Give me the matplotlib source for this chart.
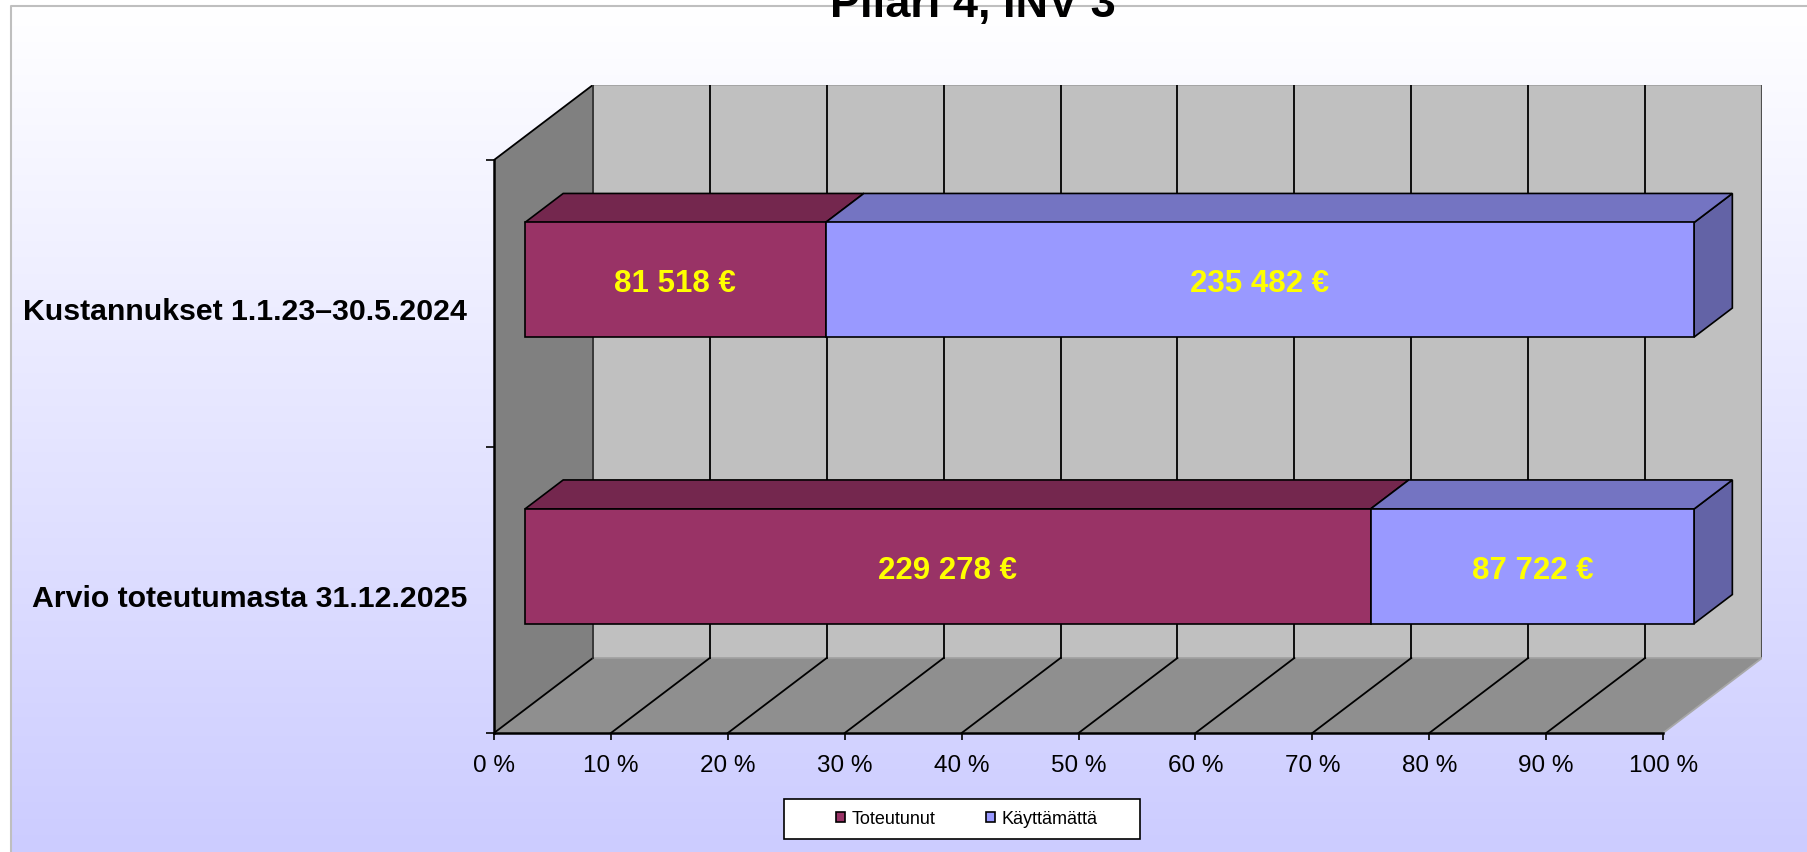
import matplotlib
matplotlib.use("Agg")
import matplotlib.pyplot as plt
from matplotlib.patches import Polygon, Rectangle, Patch
import numpy as np

plt.rcParams['font.family'] = ['Liberation Sans', 'DejaVu Sans']

############## Daten ##############
title = "Pilari 4, INV 3"
categories = ["Arvio toteutumasta 31.12.2025", "Kustannukset 1.1.23–30.5.2024"]
series_names = ["Toteutunut", "Käyttämättä"]
toteutunut = [229278, 81518]
kayttamatta = [87722, 235482]
xticks = list(range(0, 101, 10))
xtick_labels = [f"{t} %" for t in xticks]

front_colors = ["#993366", "#9999FF"]

############## 3D-Hilfen ##############
DX, DY = 8.455, 0.2618      # volle Tiefe in Datenkoordinaten
D0, D1 = 0.313, 0.70        # Tiefe der Balken
BAR_H = 0.4


def shade(c, f):
    r, g, b = matplotlib.colors.to_rgb(c)
    return (r * f, g * f, b * f)


def proj(x, y, d):
    return (x + d * DX, y + d * DY)


def euro(v):
    return f"{v:,}".replace(",", " ") + " €"


############## Darstellung ##############
W, H = 1808, 853
fig = plt.figure(figsize=(W / 100, H / 100), dpi=100)

# Hintergrund mit Verlauf
bg = fig.add_axes([0, 0, 1, 1], zorder=-1)
bg.set_xlim(0, W)
bg.set_ylim(H, 0)
bg.axis("off")
t = np.linspace(0, 1, 256)[:, None]
grad = np.dstack([1 - 0.2 * t, 1 - 0.2 * t, np.ones_like(t)])
bg.imshow(grad, extent=[11, W, H, 7], aspect="auto")
bg.plot([11, 11, W], [H, 7, 7], color="#BFBFBF", lw=1.5)

ax = fig.add_axes([494 / W, (H - 734) / H, 1268 / W, 648 / H])
ax.set_facecolor("none")
ax.set_xlim(0, 100 + DX)
ax.set_ylim(0, 2 + DY)
ny = len(categories)

# Wände
floor = [proj(0, 0, 0), proj(100, 0, 0), proj(100, 0, 1), proj(0, 0, 1)]
lwall = [proj(0, 0, 0), proj(0, ny, 0), proj(0, ny, 1), proj(0, 0, 1)]
bwall = [proj(0, 0, 1), proj(100, 0, 1), proj(100, ny, 1), proj(0, ny, 1)]
ax.add_patch(Polygon(floor, closed=True, fc="#8F8F8F", ec="none", zorder=1))
ax.add_patch(Polygon(lwall, closed=True, fc="#808080", ec="none", zorder=1))
ax.add_patch(Polygon(bwall, closed=True, fc="#C0C0C0", ec="#A0A0A0", lw=1.2, zorder=1))

# Gitterlinien
for x in xticks[1:-1]:
    (xa, ya), (xb, yb) = proj(x, 0, 0), proj(x, 0, 1)
    ax.plot([xa, xb], [ya, yb], color="black", lw=1.3, zorder=2)
    (xa, ya), (xb, yb) = proj(x, 0, 1), proj(x, ny, 1)
    ax.plot([xa, xb], [ya, yb], color="black", lw=1.3, zorder=2)
(xa, ya), (xb, yb) = proj(100, 0, 1), proj(100, ny, 1)
ax.plot([xa, xb], [ya, yb], color="#505050", lw=1.5, zorder=2)
(xa, ya), (xb, yb) = proj(100, 0, 0), proj(100, 0, 1)
ax.plot([xa, xb], [ya, yb], color="#A8A8A8", lw=1.3, zorder=2)
# Kanten der linken Wand
for yy in (0, ny):
    (xa, ya), (xb, yb) = proj(0, yy, 0), proj(0, yy, 1)
    ax.plot([xa, xb], [ya, yb], color="black", lw=1.3, zorder=2)
(xa, ya), (xb, yb) = proj(0, 0, 1), proj(0, ny, 1)
ax.plot([xa, xb], [ya, yb], color="#303030", lw=1.3, zorder=2)

# Balken
for i in range(ny):
    vals = [toteutunut[i], kayttamatta[i]]
    total = sum(vals)
    y0, y1 = i + 0.5 - BAR_H / 2, i + 0.5 + BAR_H / 2
    left = 0
    for s, v in enumerate(vals):
        w = v / total * 100
        x0, x1 = left, left + w
        c = front_colors[s]
        side = [proj(x1, y0, D0), proj(x1, y0, D1), proj(x1, y1, D1), proj(x1, y1, D0)]
        top = [proj(x0, y1, D0), proj(x1, y1, D0), proj(x1, y1, D1), proj(x0, y1, D1)]
        front = [proj(x0, y0, D0), proj(x1, y0, D0), proj(x1, y1, D0), proj(x0, y1, D0)]
        ax.add_patch(Polygon(side, closed=True, fc=shade(c, 0.65), ec="black", lw=1.2, zorder=3))
        ax.add_patch(Polygon(top, closed=True, fc=shade(c, 0.76), ec="black", lw=1.2, zorder=3))
        ax.add_patch(Polygon(front, closed=True, fc=c, ec="black", lw=1.2, zorder=3))
        cx, cy = proj((x0 + x1) / 2, (y0 + y1) / 2, D0)
        ax.annotate(euro(v), (cx, cy), xytext=(0, -2.5), textcoords="offset points",
                    color="#FFFF00", fontsize=22.5, fontweight="bold",
                    ha="center", va="center", zorder=4)
        left = x1

# Achsen
for sp in ("top", "right"):
    ax.spines[sp].set_visible(False)
ax.spines["left"].set_bounds(0, ny)
ax.spines["bottom"].set_bounds(0, 100)
ax.spines["left"].set_linewidth(1.8)
ax.spines["bottom"].set_linewidth(1.8)
ax.spines["left"].set_zorder(2.5)
ax.spines["bottom"].set_zorder(2.5)

ax.set_xticks(xticks)
ax.set_xticklabels(xtick_labels, fontsize=17.5)
ax.tick_params(axis="x", direction="out", length=5, width=1.2, pad=10, colors="black")

ax.set_yticks(range(ny + 1))
ax.set_yticklabels([])
ax.tick_params(axis="y", which="major", direction="out", length=5.8, width=1.2)
ax.set_yticks([i + 0.5 - 0.017 for i in range(ny)], minor=True)
ax.set_yticklabels(categories, minor=True, fontsize=21.8, fontweight="bold")
ax.tick_params(axis="y", which="minor", length=0, pad=19.4)

# Titel
fig.text(973 / W, (H - 17) / H, title, fontsize=32.5, fontweight="bold",
         ha="center", va="baseline", zorder=10)

# Legende
bg.add_patch(Rectangle((784, 800), 356, 40, fc="white", ec="black", lw=1.2, zorder=5))
handles = [Patch(facecolor=c, edgecolor="black", lw=1.2) for c in front_colors]
fig.legend(handles, series_names, loc="center", bbox_to_anchor=(967 / W, (H - 820) / H),
           ncol=2, frameon=False, fontsize=13, handlelength=0.5, handleheight=0.5,
           handletextpad=0.35, columnspacing=2.8)

fig.savefig("out.png", dpi=100)
